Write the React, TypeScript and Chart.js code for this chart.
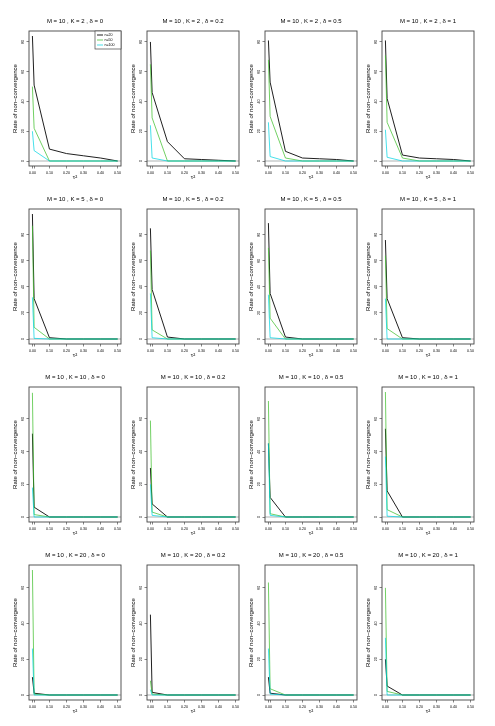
import React, { useEffect, useRef } from "react";
import { Chart, registerables } from "chart.js";
Chart.register(...registerables);

// ---------- data ----------
const M = 10;
const Ks = [2, 5, 10, 20];
const deltas = ["0", "0.2", "0.5", "1"];
const tau2 = [0, 0.01, 0.1, 0.2, 0.3, 0.4, 0.5];
const xTickValues = [0, 0.01, 0.1, 0.2, 0.3, 0.4, 0.5];
const yTickValues = [0, 20, 40, 60, 80, 100];
const seriesLabels = ["n=20", "n=50", "n=100"];

// rate of non-convergence (%) per delta (0, 0.2, 0.5, 1), values at tau2
const rate_K2_n20 = [[84, 51, 8, 5, 3.5, 2, 0], [80, 46, 13, 1.5, 1, 0.5, 0], [81, 53, 6.5, 2, 1.5, 1, 0], [81, 42, 4, 2, 1.5, 1, 0]];
const rate_K2_n50 = [[50, 22, 0, 0, 0, 0, 0], [65, 29, 0, 0, 0, 0, 0], [68, 30, 2, 0, 0, 0, 0], [71, 26, 2, 0, 0, 0, 0]];
const rate_K2_n100 = [[20, 7, 0, 0, 0, 0, 0], [24, 2, 0, 0, 0, 0, 0], [26, 3, 0, 0, 0, 0, 0], [21, 2.5, 0, 0, 0, 0, 0]];

const rate_K5_n20 = [[96, 31, 1, 0, 0, 0, 0], [85, 38, 1.5, 0, 0, 0, 0], [89, 35, 1.5, 0, 0, 0, 0], [76, 31, 1, 0, 0, 0, 0]];
const rate_K5_n50 = [[87, 9, 0, 0, 0, 0, 0], [68, 7, 0, 0, 0, 0, 0], [70, 16, 0, 0, 0, 0, 0], [64, 8, 0, 0, 0, 0, 0]];
const rate_K5_n100 = [[32, 0.5, 0, 0, 0, 0, 0], [35, 1, 0, 0, 0, 0, 0], [34, 1, 0, 0, 0, 0, 0], [31, 0, 0, 0, 0, 0, 0]];

const rate_K10_n20 = [[51, 6, 0, 0, 0, 0, 0], [30, 8, 0, 0, 0, 0, 0], [45, 12, 0, 0, 0, 0, 0], [54, 16, 0, 0, 0, 0, 0]];
const rate_K10_n50 = [[76, 1.5, 0, 0, 0, 0, 0], [59, 3, 0, 0, 0, 0, 0], [71, 2, 0, 0, 0, 0, 0], [76.5, 4.5, 0, 0, 0, 0, 0]];
const rate_K10_n100 = [[18, 0, 0, 0, 0, 0, 0], [20, 1, 0, 0, 0, 0, 0], [45, 1, 0, 0, 0, 0, 0], [37, 0.5, 0, 0, 0, 0, 0]];

const rate_K20_n20 = [[10, 1, 0, 0, 0, 0, 0], [45, 1.5, 0, 0, 0, 0, 0], [10, 1, 0, 0, 0, 0, 0], [20, 5, 0, 0, 0, 0, 0]];
const rate_K20_n50 = [[70, 0.5, 0, 0, 0, 0, 0], [8, 0.5, 0, 0, 0, 0, 0], [63, 3.5, 0, 0, 0, 0, 0], [60, 2, 0, 0, 0, 0, 0]];
const rate_K20_n100 = [[26, 0, 0, 0, 0, 0, 0], [3, 0, 0, 0, 0, 0, 0], [26, 0.5, 0, 0, 0, 0, 0], [32, 0, 0, 0, 0, 0, 0]];

const rowsN20 = [rate_K2_n20, rate_K5_n20, rate_K10_n20, rate_K20_n20];
const rowsN50 = [rate_K2_n50, rate_K5_n50, rate_K10_n50, rate_K20_n50];
const rowsN100 = [rate_K2_n100, rate_K5_n100, rate_K10_n100, rate_K20_n100];

// ---------- style / layout ----------
const FONT = "'Liberation Sans', Arial, Helvetica, sans-serif";
const BLACK = "rgba(0,0,0,0.88)";
const GREEN = "rgba(60,190,40,0.72)";
const CYAN = "rgba(0,212,226,0.72)";
const BOX_LEFT = [29, 147, 265, 382];
const BOX_TOP = [31, 209, 387, 565];
const BOX_W = 92;
const BOX_H = 135;
const Y_AXIS_W = 29;
const TITLE_H = 30;
const X_AXIS_H = 16;
const RIGHT_PAD = 3;

const framePlugin = {
  id: "rFrame",
  beforeDatasetsDraw(chart: any) {
    const { ctx, chartArea } = chart;
    const y = chart.scales.y.getPixelForValue(0);
    ctx.save();
    ctx.strokeStyle = "#c9cccc";
    ctx.lineWidth = 1.5;
    ctx.beginPath();
    ctx.moveTo(chartArea.left, y);
    ctx.lineTo(chartArea.right, y);
    ctx.stroke();
    ctx.restore();
  },
  afterDatasetsDraw(chart: any) {
    const { ctx, chartArea } = chart;
    ctx.save();
    ctx.strokeStyle = "#444";
    ctx.lineWidth = 0.9;
    ctx.strokeRect(chartArea.left, chartArea.top, chartArea.right - chartArea.left, chartArea.bottom - chartArea.top);
    ctx.restore();
  },
};

const legendPlugin = {
  id: "rLegend",
  afterDraw(chart: any) {
    const { ctx, chartArea } = chart;
    const w = 26;
    const h = 18;
    const x0 = chartArea.right - w;
    const y0 = chartArea.top;
    const colors = [BLACK, GREEN, CYAN];
    ctx.save();
    ctx.fillStyle = "#fff";
    ctx.fillRect(x0, y0, w, h);
    ctx.strokeStyle = "#444";
    ctx.lineWidth = 0.7;
    ctx.strokeRect(x0, y0, w, h);
    ctx.font = `3.6px ${FONT}`;
    ctx.textBaseline = "middle";
    seriesLabels.forEach((lab, i) => {
      const y = y0 + 4 + i * 5;
      ctx.strokeStyle = colors[i];
      ctx.lineWidth = 1;
      ctx.beginPath();
      ctx.moveTo(x0 + 2, y);
      ctx.lineTo(x0 + 8, y);
      ctx.stroke();
      ctx.fillStyle = "#000";
      ctx.fillText(lab, x0 + 9.5, y);
    });
    ctx.restore();
  },
};

function Panel({ row, col }: { row: number; col: number }) {
  const ref = useRef<HTMLCanvasElement>(null);
  useEffect(() => {
    const canvas = ref.current;
    if (!canvas) return;
    const n20 = rowsN20[row][col];
    const n50 = rowsN50[row][col];
    const n100 = rowsN100[row][col];
    const rowMax = Math.max(
      ...rowsN20[row].flat(),
      ...rowsN50[row].flat(),
      ...rowsN100[row].flat()
    );
    const yMin = -0.04 * rowMax;
    const yMax = 1.04 * rowMax;
    const toPts = (arr: number[]) => tau2.map((x, i) => ({ x, y: arr[i] }));
    const tickGrid = {
      drawOnChartArea: false,
      drawTicks: true,
      tickLength: 2.5,
      color: "#333",
      lineWidth: 0.6,
    };
    const plugins: any[] = [framePlugin];
    if (row === 0 && col === 0) plugins.push(legendPlugin);
    const chart = new Chart(canvas, {
      type: "line",
      data: {
        datasets: [
          { label: seriesLabels[2], data: toPts(n100), borderColor: CYAN, order: 0 },
          { label: seriesLabels[1], data: toPts(n50), borderColor: GREEN, order: 1 },
          { label: seriesLabels[0], data: toPts(n20), borderColor: BLACK, order: 2 },
        ],
      },
      options: {
        responsive: false,
        animation: false,
        devicePixelRatio: 1,
        layout: { padding: { left: 0, right: RIGHT_PAD, top: 0, bottom: 0 } },
        elements: {
          point: { radius: 0 },
          line: { borderWidth: 1, tension: 0, fill: false },
        },
        plugins: {
          legend: { display: false },
          tooltip: { enabled: false },
          title: {
            display: true,
            fullSize: false,
            text: `M = ${M} , K = ${Ks[row]} , δ = ${deltas[col]}`,
            color: "#000",
            font: { family: FONT, size: 6, weight: "normal", lineHeight: 1.2 },
            padding: { top: 16.4, bottom: 6.4 },
          },
        },
        scales: {
          x: {
            type: "linear",
            min: -0.02,
            max: 0.52,
            afterBuildTicks: (s: any) => {
              s.ticks = xTickValues.map((v) => ({ value: v }));
            },
            afterFit: (s: any) => {
              s.height = X_AXIS_H;
            },
            ticks: {
              autoSkip: false,
              maxRotation: 0,
              minRotation: 0,
              padding: 2,
              color: "#000",
              font: { family: FONT, size: 3.6 },
              callback: (v: any) => (Number(v) === 0.01 ? "" : Number(v).toFixed(2)),
            },
            grid: tickGrid,
            border: { display: false },
            title: {
              display: true,
              text: "τ²",
              color: "#000",
              font: { family: FONT, size: 6, lineHeight: 1.2 },
              padding: { top: 0, bottom: 1.4 },
            },
          },
          y: {
            type: "linear",
            min: yMin,
            max: yMax,
            afterBuildTicks: (s: any) => {
              s.ticks = yTickValues.filter((v) => v <= yMax).map((v) => ({ value: v }));
            },
            afterFit: (s: any) => {
              s.width = Y_AXIS_W;
            },
            ticks: {
              autoSkip: false,
              minRotation: 90,
              maxRotation: 90,
              crossAlign: "center",
              padding: 1.5,
              color: "#000",
              font: { family: FONT, size: 3.6 },
            },
            grid: tickGrid,
            border: { display: false },
            title: {
              display: true,
              text: "Rate of non−convergence",
              color: "#000",
              font: { family: FONT, size: 6, lineHeight: 1.2 },
              padding: { top: 11.4, bottom: 0 },
            },
          },
        },
      } as any,
      plugins,
    });
    return () => chart.destroy();
  }, [row, col]);

  const w = Y_AXIS_W + BOX_W + RIGHT_PAD;
  const h = TITLE_H + BOX_H + X_AXIS_H;
  return (
    <canvas
      ref={ref}
      width={w}
      height={h}
      style={{
        position: "absolute",
        left: BOX_LEFT[col] - Y_AXIS_W,
        top: BOX_TOP[row] - TITLE_H,
        width: w,
        height: h,
      }}
    />
  );
}

export default function App() {
  const cells: JSX.Element[] = [];
  for (let r = 0; r < Ks.length; r++) {
    for (let c = 0; c < deltas.length; c++) {
      cells.push(<Panel key={`${r}-${c}`} row={r} col={c} />);
    }
  }
  return (
    <div
      style={{
        position: "fixed",
        left: 0,
        top: 0,
        width: 495,
        height: 726,
        background: "#fff",
        overflow: "hidden",
      }}
    >
      {cells}
    </div>
  );
}
